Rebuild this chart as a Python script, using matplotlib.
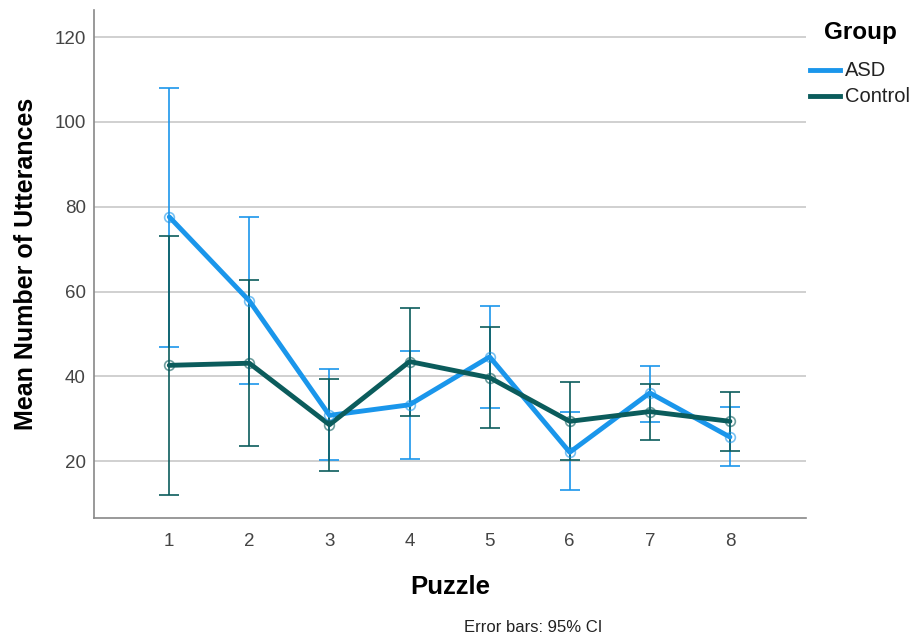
import matplotlib
matplotlib.use("Agg")
import matplotlib.pyplot as plt
from matplotlib.lines import Line2D

plt.rcParams['font.family'] = ['Liberation Sans', 'DejaVu Sans']

puzzles = [1, 2, 3, 4, 5, 6, 7, 8]
asd_mean = [77.6, 57.8, 30.8, 33.3, 44.6, 22.1, 36.1, 25.7]
asd_low = [47.0, 38.1, 20.2, 20.4, 32.5, 13.1, 29.2, 18.8]
asd_high = [108.0, 77.5, 41.8, 46.1, 56.5, 31.6, 42.4, 32.8]
ctl_mean = [42.6, 43.1, 28.6, 43.5, 39.7, 29.4, 31.7, 29.4]
ctl_low = [12.1, 23.5, 17.6, 30.6, 27.8, 20.3, 25.1, 22.5]
ctl_high = [73.2, 62.8, 39.3, 56.1, 51.6, 38.7, 38.3, 36.3]
yticks = [20, 40, 60, 80, 100, 120]
groups = ['ASD', 'Control']

c_asd = '#1a96eb'
c_ctl = '#0b5c5c'

W, H = 912, 639
fig = plt.figure(figsize=(W/100, H/100), dpi=100)
ax = fig.add_axes([94/W, 1-518/H, (806-94)/W, (518-10)/H])

for mean, lo, hi, col in [(asd_mean, asd_low, asd_high, c_asd), (ctl_mean, ctl_low, ctl_high, c_ctl)]:
    yerr = [[m - l for m, l in zip(mean, lo)], [h - m for m, h in zip(mean, hi)]]
    ax.errorbar(puzzles, mean, yerr=yerr, fmt='none', ecolor=col, elinewidth=1.4,
                capsize=7.2, capthick=1.4, alpha=0.85, zorder=3)
    ax.plot(puzzles, mean, color=col, lw=3.5, zorder=4, solid_capstyle='round')
    ax.plot(puzzles, mean, 'o', ms=7, mfc='none', mec=col, mew=1.2, alpha=0.6, zorder=5)

ax.set_xlim(0.06, 8.95)
ax.set_ylim(6.6, 126.4)
ax.set_xticks(puzzles)
ax.set_yticks(yticks)
ax.yaxis.grid(True, color='#c8c8c8', lw=1.2)
ax.set_axisbelow(True)
ax.tick_params(length=0, labelsize=13.5, colors='#444444')
ax.tick_params(axis='y', pad=6)
ax.tick_params(axis='x', pad=11)
for s in ['top', 'right']:
    ax.spines[s].set_visible(False)
for s in ['left', 'bottom']:
    ax.spines[s].set_color('#888888')
    ax.spines[s].set_linewidth(1.2)

ax.set_ylabel('Mean Number of Utterances', fontsize=18, fontweight='bold', labelpad=12)
ax.set_xlabel('Puzzle', fontsize=18.5, fontweight='bold', labelpad=18)

# legend (manual, figure pixel coordinates)
fig.text(860/W, 1-33/H, 'Group', fontsize=17.5, fontweight='bold', ha='center', va='center')
for i, (name, col) in enumerate(zip(groups, [c_asd, c_ctl])):
    yy = 1 - (70 + 26*i)/H
    fig.add_artist(Line2D([810/W, 840/W], [yy, yy], color=col, lw=3.5, transform=fig.transFigure))
    fig.text(845/W, yy, name, fontsize=14.5, ha='left', va='center', color='#222222')

fig.text(533/W, 1-627/H, 'Error bars: 95% CI', fontsize=12, ha='center', va='center', color='#222222')

fig.savefig('out.png', dpi=100)
